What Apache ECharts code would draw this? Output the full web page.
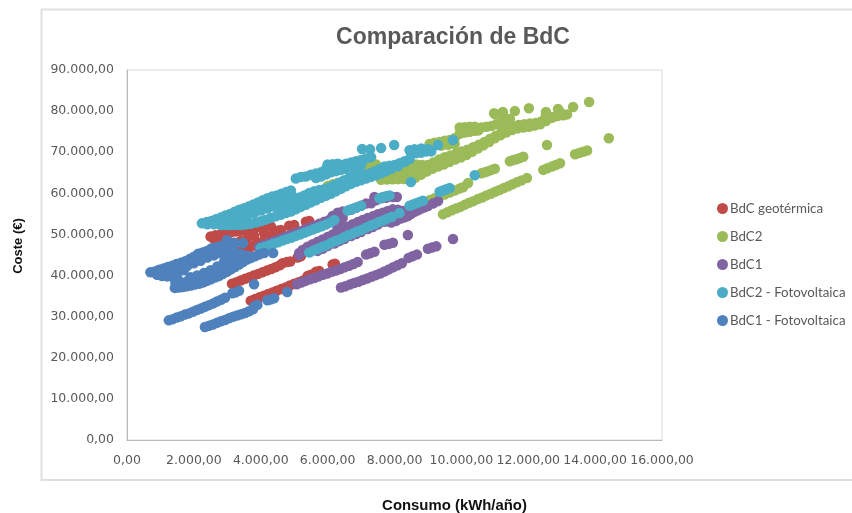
<!DOCTYPE html>
<html lang="es">
<head>
<meta charset="utf-8">
<title>Comparación de BdC</title>
<style>html,body{margin:0;padding:0;background:#fff}#chart{width:852px;height:513px}</style>
<script src="https://cdn.jsdelivr.net/npm/echarts@6/dist/echarts.min.js"></script>
</head>
<body>
<div id="chart"></div>
<script>
// Consumo anual (kWh/año) y coste (€) de cada vivienda, por tipo de BdC.
const seriesNames = ['BdC geotérmica', 'BdC2', 'BdC1', 'BdC2 - Fotovoltaica', 'BdC1 - Fotovoltaica'];
const xTicks = [0, 2000, 4000, 6000, 8000, 10000, 12000, 14000, 16000];
const yTicks = [0, 10000, 20000, 30000, 40000, 50000, 60000, 70000, 80000, 90000];

const bdcGeotermica = [
  [2500,49500],[2650,49800],[2800,50000],[2950,50300],[3100,50500],[3250,50700],[3400,50900],[3550,51100],[3700,51300],[3850,51600],[4000,51800],[4150,51900],[4300,52000],
  [2600,48900],[2800,48500],[3000,48100],[3200,48000],[3400,48400],[3600,49100],[3800,49700],[4100,50300],
  [4500,50900],[4600,51100],[4850,52100],[5000,52300],[5350,53100],[5450,53300],
  [3050,44700],[3200,45200],[3350,45700],[3500,46200],[3650,46700],[3800,47300],[3950,47900],[4100,48600],[4250,49400],[4400,50300],
  [3140,38000],[3270,38400],[3400,38800],[3530,39200],[3660,39600],[3790,40000],[3920,40400],[4050,40800],[4180,41200],[4310,41600],[4440,42000],[4570,42500],[4650,43000],[4780,43300],[4880,43400],[5100,44400],[5200,44700],
  [3700,33900],[3830,34300],[3960,34700],[4090,35100],[4220,35500],[4350,35900],[4480,36300],[4610,36700],[4740,37100],[4870,37600],[5000,38000],[5130,38400],[5260,38800],[5400,39900],[5500,40200],[5650,40900],[5750,41100],[6150,42700],[6220,42900]
];

const bdc2 = [
  [9450,54900],[9580,55400],[9710,55900],[9840,56300],[9970,56700],[10100,57200],[10230,57700],[10360,58100],[10490,58600],[10620,59000],[10750,59500],[10880,59900],[11010,60400],[11140,60800],[11270,61300],[11400,61700],[11530,62200],[11660,62700],[11790,63100],[11960,63700],
  [10600,64900],[10700,65100],[10800,65400],[10900,65700],[11000,66000],
  [11450,67800],[11550,68100],[11650,68300],[11750,68600],[11850,68900],[12560,71750],
  [12450,65700],[12570,66100],[12700,66500],[12820,66900],[12950,67300],
  [13400,69500],[13520,69800],[13640,70100],[13760,70400],[14410,73400],
  [7600,63300],[7770,63350],[7940,63400],[8110,63450],[8280,63500],[8450,63500],[8620,63800],[8790,64500],[8960,65300],[9130,66000],[9300,66500],[9470,67000],[9640,67600],[9810,68200],[9980,68700],
  [10150,69300],[10320,70100],[10490,70900],[10660,71700],[10830,72500],[11000,73400],[11170,74100],[11340,74800],[11510,75400],[11680,75800],[11850,76000],[12020,76200],[12190,76500],[12360,76800],[12530,77600],[12700,78400],[12870,78800],[13040,79000],[13160,79200],
  [7800,65000],[7970,65500],[8140,66000],[8310,66300],[8480,66700],[8650,67000],[8820,66900],[8990,66900],[9160,67500],[9330,68200],[9500,68800],[9670,69200],[9840,69700],[10010,70200],[10180,70600],[10350,71200],
  [10520,71800],[10690,72500],[10860,73300],[11030,74000],[11200,74800],[11370,75300],[11540,76300],[11710,76600],[11880,76800],[12050,77000],[12220,77100],[12390,77500],[12560,78000],[12730,78500],[12900,79000],
  [8100,64700],[8300,65000],[8500,65300],[8700,65800],[8900,66200],[9100,66700],
  [9050,72000],[9200,72300],[9350,72500],[9500,72800],[9650,73000],[9800,73400],[9400,71600],[9600,71800],[9800,72000],
  [9950,74500],[10100,74800],[10250,75000],[10400,75200],[10500,75300],[9950,76000],[10100,76100],[10250,76200],[10400,76200],
  [10600,76000],[10750,76200],[10900,76400],[11050,76800],[11200,77100],[11350,77700],[11450,78100],[11250,78300],
  [10980,79500],[11010,79200],[11240,79800],[11240,79300],[11600,80000],[12020,80700],[12530,79800],[12530,79000],[12890,80500],[12950,79800],[13340,81000],[13820,82200],
  [9060,58400],[9200,58800],[9350,59200],[9500,59700],[9650,60200],[9800,60700],[9950,61200],[10050,61500],[10200,62500],
  [6000,61800],[6150,62200],[6300,62500],[6450,62900],[7000,65800],[7150,66200],[7300,66700],[7450,67000]
];

const bdc1 = [
  [5080,37900],[5210,38300],[5340,38700],[5470,39100],[5600,39400],[5730,39800],[5860,40200],[5990,40500],[6120,40900],[6250,41200],[6380,41600],[6510,42000],[6640,42400],[6770,42800],[6900,43300],
  [7150,45100],[7270,45400],[7400,45800],[7700,47500],[7830,47700],[7950,48000],[8400,49850],
  [6400,37100],[6530,37400],[6660,37800],[6790,38200],[6920,38500],[7050,38900],[7180,39300],[7310,39700],[7440,40100],[7570,40500],[7700,41000],[7830,41500],[7960,42000],[8090,42500],[8220,43000],
  [8420,44300],[8540,44700],[8670,45100],[9000,46500],[9120,46800],[9250,47100],[9750,48900],
  [3950,47000],[4100,47500],[4250,47950],[4400,48400],[4550,48850],[4700,49300],[4850,49800],[5000,50250],[5150,50700],[5300,51150],[5450,51650],[5600,52100],[5750,52600],[5900,53100],[6050,53500],
  [6150,54500],[6300,55300],[6450,55600],[6200,53000],[6350,52500],[6450,54000],[6300,51500],
  [6700,56000],[6850,56500],[7000,57000],[7150,57500],[7300,57600],[7450,58300],[7600,58800],[7750,58900],[7400,59100],[7950,59100],[8070,59100],
  [5150,45000],[5250,46200],[5400,47000],[5550,47600],[5700,48200],[5850,48800],[6000,49400],[6150,50000],[6300,50900],[6450,51400],[6600,51900],[6750,52500],[6900,53000],[7050,53500],[7200,54000],[7350,54400],[7500,54900],[7650,55300],[7800,55700],[7950,56100],[8100,56000],
  [5150,45500],[5300,46000],[5450,46300],[5600,46500],[5700,46000],[5850,46500],[6000,47200],[6200,47800],[6350,48400],[6500,48900],[6700,49600],[6850,50100],[7000,50600],[7200,51300],[7350,51800],[7500,52400],[7700,53100],[7850,53600],[8000,54100],[8150,54700],
  [8200,53900],[8300,54200],[8400,54500],[8500,55000],[8600,55500],[8700,55900],[8800,56300],[8900,56600],[9000,56900],[9150,57500],[9300,58100],
  [8000,55000],[8100,55300],[8250,55700],[8400,56000],[8550,56400],[8700,57000],[7900,52900],[8050,53300]
];

const bdc2Fv = [
  [2240,52700],[2380,53000],[2520,53300],[2660,53700],[2800,54100],[2940,54600],[3080,55000],[3220,55500],[3360,56000],[3500,56400],[3640,56800],[3780,57300],[3920,57800],[4060,58300],[4200,58800],[4340,59200],[4480,59500],[4620,59900],[4760,60300],[4900,60700],
  [5050,63600],[5200,64000],[5350,64100],[5500,64500],[5650,64800],[5800,65100],[5950,65900],[6100,66400],[6250,66600],[6400,66900],[6550,67200],[6700,67500],[6850,67800],[7000,68100],[7150,68500],[7300,68800],
  [6000,67000],[6150,67100],[6300,67200],
  [5650,63700],[5800,64100],[5950,64600],[6100,65100],[6250,65400],[6400,65700],[6550,66000],[6700,66300],[6850,66600],[7000,66900],
  [7030,70770],[7270,70700],[7600,71000],[7990,71750],
  [2400,52500],[2600,52500],[2800,52300],[2950,52300],[3100,52300],[3250,52300],[3400,52300],[3550,52400],[3700,52600],[3850,52900],[4000,53200],[4150,53600],[4300,54000],[4450,54400],[4600,54800],[4750,55200],[4900,55600],
  [5050,56100],[5200,56700],[5350,57200],[5500,57800],[5650,58300],[5800,58900],[5950,59400],[6100,59900],[6250,60500],[6400,61100],[6550,61700],[6700,62300],[6850,62800],[7000,63200],[7150,63600],[7300,64000],[7450,64400],[7600,64900],[7750,65400],[7900,66000],[8100,66600],[8300,67600],
  [4400,56800],[4550,57200],[4700,57700],[4850,58200],[5000,58800],[5150,59000],[5300,59500],[5450,60100],[5600,60500],[5750,60800],[5900,61000],[6050,61400],[6200,62000],[6350,62600],[6500,63200],[6650,63800],[6800,64200],[6950,64400],[7100,64600],[7250,64800],[7400,65300],[7550,65900],[7700,66500],[7850,66700],[8000,66900],[8150,67300],[8300,67800],[8450,68300],
  [3000,53600],[3200,53800],[3400,54200],[3600,54600],[3800,55200],[4000,55800],[4200,56300],[3500,55500],[3700,56000],[3900,56500],[4600,56500],[4800,57000],[5000,57600],[5200,58200],[5400,58900],[5600,59500],[5800,60200],[6000,60900],[6200,61600],[6400,62400],[6600,63000],[6800,63500],[7000,64000],
  [4100,57000],[4300,57900],[4500,58600],[4700,59000],[4900,59700],
  [8500,69500],[8650,69800],[8800,69900],[8950,70200],[9100,70200],[8450,70500],[8600,70700],[8800,70900],[9000,70800],
  [9300,71750],[9750,72960],[8490,62750],
  [4000,46700],[4130,47000],[4260,47400],[4390,47800],[4520,48100],[4650,48500],[4780,48900],[4910,49200],[5040,49600],[5170,50000],[5300,50400],[5430,50800],[5560,51200],[5690,51600],[5820,52000],[5950,52400],[6080,52900],[6200,53500],
  [6600,55800],[6700,56100],[6800,56400],[6900,56700],[7000,57000],[7550,58800],[7650,59100],[7750,59300],[7850,59500],
  [5450,45600],[5580,46100],[5710,46500],[5840,47000],[5970,47400],[6100,47900],[6230,48400],[6360,48800],[6490,49300],[6620,49800],[6750,50200],[6880,50700],[7010,51100],[7140,51600],[7270,52100],[7400,52500],[7530,53000],[7660,53400],[7790,53900],[7920,54300],[8150,55200],
  [8450,57000],[8550,57300],[8650,57600],[8750,57900],[8850,58200],[9350,60400],[9450,60700],[9550,61000],[9650,61300],[10400,64400]
];

const bdc1Fv = [
  [1250,29100],[1370,29400],[1490,29800],[1610,30100],[1730,30500],[1850,30800],[1970,31200],[2090,31600],[2210,32000],[2330,32400],[2450,32800],[2570,33200],[2690,33700],[2810,34100],[2930,34600],[3150,35700],[3250,35900],[3350,36300],[3800,37900],
  [2330,27500],[2450,27800],[2570,28100],[2690,28500],[2810,28900],[2930,29200],[3050,29600],[3170,30000],[3290,30300],[3410,30600],[3530,30900],[3650,31300],[3770,31800],[3800,32500],[3900,32900],[4200,34000],[4300,34200],[4400,34500],[4790,36000],
  [700,40800],[830,41000],[960,41400],[1090,41700],[1220,42100],[1350,42400],[1480,42800],[1610,43100],[1740,43500],[1870,44000],[2000,44600],[2130,45300],[2260,45600],[2390,46000],[2520,46600],[2650,46800],[2780,47100],[2990,48600],[3100,48000],[3230,47900],[3470,47900],
  [1430,37000],[1550,37100],[1670,37200],[1790,37400],[1910,37600],[2030,37800],[2150,38000],[2270,38300],[2390,38700],[2510,39100],[2630,39500],[2750,39900],[2870,40400],[2990,40900],[3110,41500],[3230,42100],[3350,42700],[3470,43300],[3590,43900],[3710,44300],[3830,44700],[3950,45100],[4100,45500],[4370,45500],
  [900,40200],[1050,39900],[1200,39800],[1350,39700],[1500,39500],[1450,38200],[1600,38400],[1800,38600],[2000,39000],[2200,39400],[2400,40000],[2600,40700],[2800,41400],[3000,42300],[3200,43200],[3400,44000],[3600,44800],
  [1300,40900],[1500,41000],[1700,41300],[1600,41700],[1800,42300],[2000,43000],[2200,43600],[2400,44400],[2600,44900],[2800,45400],[3000,46000],
  [1900,39600],[2100,40000],[2300,40600],[2500,41300],[2700,42200],[2900,43300],[3100,44500],[3300,45400],[3000,44800],[3200,45500],[2900,46500],[3400,45300]
];

const chart = echarts.init(document.getElementById('chart'), null, {renderer: 'canvas'});

// Formato español: punto de millares y coma decimal.
const formatEs = v => Math.round(v).toString().replace(/\B(?=(\d{3})+$)/g, '.') + ',00';

const scatterSeries = (name, data, color) => ({
  name, data, type: 'scatter', symbol: 'circle', symbolSize: 10.5,
  itemStyle: {color, opacity: 1},
  emphasis: {disabled: true}
});

chart.setOption({
  animation: false,
  backgroundColor: '#fff',
  textStyle: {fontFamily: '"DejaVu Sans"'},
  title: {
    text: 'Comparación de BdC',
    left: 448, top: 21, textAlign: 'center',
    textStyle: {fontFamily: '"Liberation Sans"', fontSize: 23, fontWeight: 'bold', color: '#595959'}
  },
  legend: {
    orient: 'vertical', left: 712, top: 197,
    itemWidth: 11, itemHeight: 11, itemGap: 15, icon: 'circle',
    data: seriesNames,
    textStyle: {fontFamily: 'Lato', fontSize: 13.3, color: '#595959', padding: [0, 0, 0, -3]}
  },
  grid: {
    left: 127, right: 190, top: 70, bottom: 73,
    outerBoundsMode: 'none',
    show: true, borderColor: '#d9d9d9', borderWidth: 1, backgroundColor: '#fff'
  },
  xAxis: {
    type: 'value', min: 0, max: 16000, interval: 2000,
    name: 'Consumo (kWh/año)', nameLocation: 'middle', nameGap: 58,
    nameTextStyle: {fontFamily: '"Liberation Sans"', fontSize: 14.9, fontWeight: 'bold', color: '#111', padding: [0, 0, 0, 120]},
    axisLine: {show: true, lineStyle: {color: '#b8b8b8'}},
    axisTick: {show: false}, splitLine: {show: false},
    axisLabel: {formatter: formatEs, fontSize: 12.5, color: '#595959', margin: 14, hideOverlap: false, customValues: xTicks}
  },
  yAxis: {
    type: 'value', min: 0, max: 90000, interval: 10000,
    name: 'Coste (€)', nameLocation: 'middle', nameGap: 102,
    nameTextStyle: {fontFamily: '"Liberation Sans"', fontSize: 13, fontWeight: 'bold', color: '#111', padding: [0, 0, 0, 18]},
    axisLine: {show: true, lineStyle: {color: '#b8b8b8'}},
    axisTick: {show: false}, splitLine: {show: false},
    axisLabel: {formatter: formatEs, fontSize: 12.5, color: '#595959', margin: 13, padding: [2, 0, 0, 0], customValues: yTicks}
  },
  graphic: [{
    type: 'rect', silent: true, z: -1,
    shape: {x: 41.5, y: 9.5, width: 830, height: 470.5},
    style: {fill: 'none', stroke: '#e0e0e0', lineWidth: 2}
  }],
  series: [
    scatterSeries(seriesNames[0], bdcGeotermica, '#be4b48'),
    scatterSeries(seriesNames[1], bdc2, '#9bbb59'),
    scatterSeries(seriesNames[2], bdc1, '#8064a2'),
    scatterSeries(seriesNames[3], bdc2Fv, '#4bacc6'),
    scatterSeries(seriesNames[4], bdc1Fv, '#4f81bd')
  ]
});
</script>
</body>
</html>
